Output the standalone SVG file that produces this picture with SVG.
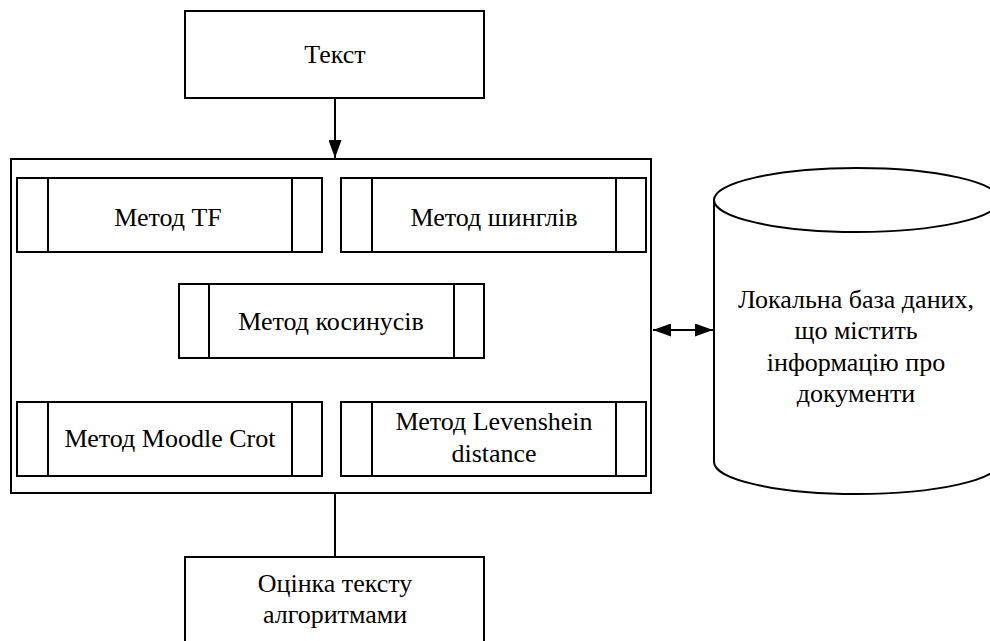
<svg xmlns="http://www.w3.org/2000/svg" width="990" height="641" viewBox="0 0 990 641">
<style>
.b{fill:#fff;stroke:#000;stroke-width:2}
.l{stroke:#000;stroke-width:2;fill:none}
</style>
<defs>
<marker id="ah" viewBox="0 0 18 13" refX="18" refY="6.5" markerWidth="18" markerHeight="13" markerUnits="userSpaceOnUse" orient="auto-start-reverse">
<path d="M0,0 L18,6.5 L0,13 z" fill="#000"/>
</marker>
</defs>
<rect width="990" height="641" fill="#fff"/>
<g id="connectors">
<line class="l" x1="335" y1="98" x2="335" y2="158" marker-end="url(#ah)"/>
<line class="l" x1="335" y1="493" x2="335" y2="557"/>
<line class="l" x1="653" y1="330" x2="713" y2="330" marker-start="url(#ah)" marker-end="url(#ah)"/>
</g>
<g id="text-input">
<rect class="b" x="185" y="11" width="299" height="87"/>
<text style="font-family:'Liberation Serif';font-size:26px" text-anchor="middle" x="335" y="63">Текст</text>
</g>
<g id="methods">
<rect class="b" x="11" y="159" width="640" height="334"/>
</g>
<g id="tf">
<rect class="b" x="17" y="178" width="305" height="74"/>
<line class="l" x1="48" y1="178" x2="48" y2="252"/><line class="l" x1="292" y1="178" x2="292" y2="252"/>
<text style="font-family:'Liberation Serif';font-size:26px" text-anchor="middle" x="168" y="226">Метод TF</text>
</g>
<g id="shingles">
<rect class="b" x="341" y="178" width="305" height="74"/>
<line class="l" x1="372" y1="178" x2="372" y2="252"/><line class="l" x1="616" y1="178" x2="616" y2="252"/>
<text style="font-family:'Liberation Serif';font-size:26px" text-anchor="middle" x="494" y="226">Метод шинглів</text>
</g>
<g id="cosine">
<rect class="b" x="179" y="284" width="305" height="74"/>
<line class="l" x1="209" y1="284" x2="209" y2="358"/><line class="l" x1="454" y1="284" x2="454" y2="358"/>
<text style="font-family:'Liberation Serif';font-size:26px" text-anchor="middle" x="331" y="330">Метод косинусів</text>
</g>
<g id="moodle">
<rect class="b" x="17" y="402" width="305" height="74"/>
<line class="l" x1="48" y1="402" x2="48" y2="476"/><line class="l" x1="292" y1="402" x2="292" y2="476"/>
<text style="font-family:'Liberation Serif';font-size:26px" text-anchor="middle" x="170" y="447">Метод Moodle Crot</text>
</g>
<g id="levenshtein">
<rect class="b" x="341" y="402" width="305" height="74"/>
<line class="l" x1="372" y1="402" x2="372" y2="476"/><line class="l" x1="616" y1="402" x2="616" y2="476"/>
<text style="font-family:'Liberation Serif';font-size:26px" text-anchor="middle" x="494" y="430">Метод Levenshein</text>
<text style="font-family:'Liberation Serif';font-size:26px" text-anchor="middle" x="494" y="462">distance</text>
</g>
<g id="database">
<path class="b" d="M714,200 L714,462 A143,32 0 0 0 1000,462 L1000,200"/>
<ellipse class="b" cx="857" cy="200" rx="143" ry="32"/>
<text style="font-family:'Liberation Serif';font-size:26px" text-anchor="middle" x="856" y="308">Локальна база даних,</text>
<text style="font-family:'Liberation Serif';font-size:26px" text-anchor="middle" x="856" y="339">що містить</text>
<text style="font-family:'Liberation Serif';font-size:26px" text-anchor="middle" x="856" y="371">інформацію про</text>
<text style="font-family:'Liberation Serif';font-size:26px" text-anchor="middle" x="856" y="402">документи</text>
</g>
<g id="result">
<rect class="b" x="185" y="557" width="299" height="95"/>
<text style="font-family:'Liberation Serif';font-size:26px" text-anchor="middle" x="335" y="592">Оцінка тексту</text>
<text style="font-family:'Liberation Serif';font-size:26px" text-anchor="middle" x="335" y="623">алгоритмами</text>
</g>
</svg>
